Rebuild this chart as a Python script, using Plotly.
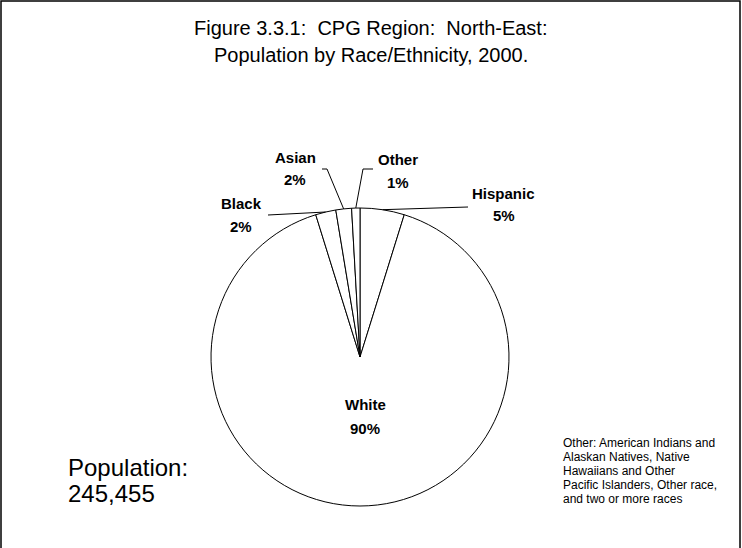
import math
import plotly.graph_objects as go

# Population by race/ethnicity, CPG Region North-East, 2000 (percent of total)
categories = ["Hispanic", "White", "Black", "Asian", "Other"]
shares = [4.8, 90.4, 2.2, 1.7, 0.9]
total_population = "245,455"

title_lines = ["Figure 3.3.1:  CPG Region:  North-East:",
               "Population by Race/Ethnicity, 2000."]
footnote_lines = ["Other: American Indians and", "Alaskan Natives, Native",
                  "Hawaiians and Other", "Pacific Islanders, Other race,",
                  "and two or more races"]

W, H = 742, 548
FONT = "Liberation Sans, Arial, sans-serif"

# pie placement in pixels (centre and radius)
CX, CY, R = 360, 357, 149


def fx(px):
    return px / W


def fy(py):
    return 1 - py / H


fig = go.Figure(
    go.Pie(
        labels=categories,
        values=shares,
        sort=False,
        direction="clockwise",
        rotation=0,
        textinfo="none",
        hoverinfo="label+percent",
        marker=dict(colors=["white"] * len(categories),
                    line=dict(color="black", width=1)),
        domain=dict(x=[fx(CX - R), fx(CX + R)], y=[fy(CY + R), fy(CY - R)]),
        showlegend=False,
    )
)

# label positions: x centre, y of name line, y of percent line (pixels)
label_pos = {
    "Hispanic": (504, 193, 216),
    "White": (365, 404, 428),
    "Black": (241, 203, 226),
    "Asian": (295, 157, 180),
    "Other": (398, 159, 182),
}
leader_start = {
    "Hispanic": [(468, 207)],
    "Black": [(268, 215)],
    "Asian": [(322, 169), (327, 169)],
    "Other": [(373, 169), (363, 169)],
}


def text_at(x, y, text, size, bold=False, anchor="center"):
    return dict(
        x=fx(x), y=fy(y), xref="paper", yref="paper", text=text,
        showarrow=False, xanchor=anchor, yanchor="middle", align=anchor,
        font=dict(family=FONT, size=size, color="black",
                  weight="bold" if bold else "normal"),
    )


total = sum(shares)
annotations = []
shapes = []
cum = 0.0
for cat, v in zip(categories, shares):
    mid_deg = (cum + v / 2) / total * 360
    cum += v
    pct = round(v / total * 100)
    lx, ly_name, ly_pct = label_pos[cat]
    annotations.append(text_at(lx, ly_name, cat, 15, bold=True))
    annotations.append(text_at(lx, ly_pct, f"{pct}%", 15, bold=True))
    if cat in leader_start:
        a = math.radians(mid_deg)
        ex, ey = CX + R * math.sin(a), CY - R * math.cos(a)
        pts = leader_start[cat] + [(ex, ey)]
        for (x0, y0), (x1, y1) in zip(pts[:-1], pts[1:]):
            shapes.append(dict(type="line", xref="paper", yref="paper",
                               x0=fx(x0), y0=fy(y0), x1=fx(x1), y1=fy(y1),
                               line=dict(color="black", width=1)))

# chart title
for i, line in enumerate(title_lines):
    annotations.append(text_at(371, 28 + 27 * i, line, 20))

# population total
annotations.append(text_at(66, 467, "Population:", 24, anchor="left"))
annotations.append(text_at(66, 493, total_population, 24, anchor="left"))

# footnote for "Other"
for i, line in enumerate(footnote_lines):
    annotations.append(text_at(561, 443 + 14 * i, line, 12, anchor="left"))

# chart-area frame
shapes.append(dict(type="rect", xref="paper", yref="paper",
                   x0=fx(1), y0=fy(1), x1=fx(740), y1=fy(570),
                   line=dict(color="black", width=1.5), fillcolor="rgba(0,0,0,0)"))

fig.update_layout(
    width=W, height=H,
    margin=dict(l=0, r=0, t=0, b=0),
    paper_bgcolor="white",
    plot_bgcolor="white",
    annotations=annotations,
    shapes=shapes,
)

fig.write_html("out.html")
